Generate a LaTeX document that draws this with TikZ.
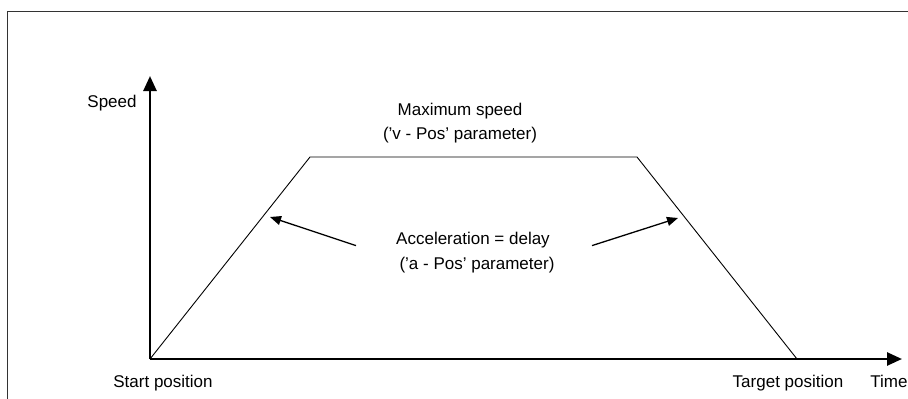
\documentclass[tikz,border=0pt]{standalone}
\usepackage{fontspec}
\setmainfont{Liberation Sans}
\usetikzlibrary{arrows.meta}

\begin{document}
\begin{tikzpicture}[x=1pt,y=-1pt,
  axis/.style={line width=2.6pt,-{Triangle[length=15pt,width=13pt]}},
  pointer/.style={line width=1.3pt,-{Triangle[length=11pt,width=9pt]}},
  profile/.style={line width=0.9pt},
  lbl/.style={font=\fontsize{17}{20}\selectfont,inner sep=0pt,anchor=base}]
\useasboundingbox (0,0) rectangle (908,399);
\draw[line width=1pt,black!80] (7.5,399) -- (7.5,11) -- (908,11);

\coordinate (origin) at (150,359);
\coordinate (ytop) at (150,76);
\coordinate (xend) at (902,359);
\draw[axis] (origin) -- (ytop);
\draw[axis] (origin) -- (xend);

\coordinate (rampup) at (310,157);
\coordinate (rampdown) at (637,157);
\coordinate (target) at (797,359);
\draw[profile] (origin) -- (rampup) -- (rampdown) -- (target);

\node[lbl] (speed) at (112,107) {Speed};
\node[lbl] (vmax) at (460,115) {Maximum speed};
\node[lbl] (vpar) at (460,139) {('v - Pos' parameter)};
\node[lbl] (accel) at (473,244) {Acceleration = delay};
\node[lbl] (apar) at (477,269) {('a - Pos' parameter)};
\node[lbl] (start) at (163,387) {Start position};
\node[lbl] (targetlbl) at (788,387) {Target position};
\node[lbl] (time) at (889,387) {Time};

\coordinate (lhead) at (270,217);
\coordinate (rhead) at (678,218);
\draw[pointer] ([xshift=-40pt,yshift=-6pt]accel.west) -- (lhead);
\draw[pointer] ([xshift=42pt,yshift=-6pt]accel.east) -- (rhead);
\end{tikzpicture}
\end{document}
